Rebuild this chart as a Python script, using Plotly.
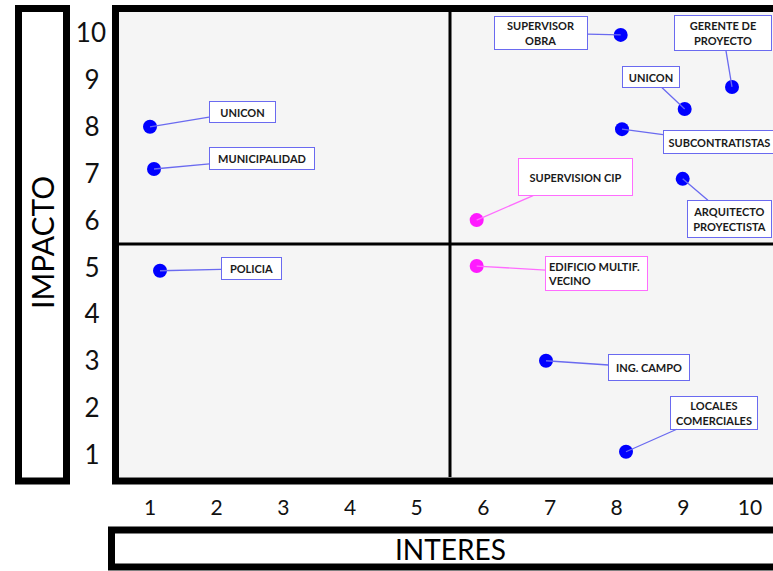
import plotly.graph_objects as go

# Stakeholder matrix: interest (x) vs impact (y)
actores = ["UNICON", "MUNICIPALIDAD", "POLICIA", "SUPERVISOR<br>OBRA",
           "GERENTE DE<br>PROYECTO", "UNICON", "SUBCONTRATISTAS",
           "ARQUITECTO<br>PROYECTISTA", "SUPERVISION CIP",
           "EDIFICIO MULTIF.<br>VECINO", "ING. CAMPO", "LOCALES<br>COMERCIALES"]
interes = [1.0, 1.06, 1.15, 8.06, 9.73, 9.02, 8.08, 8.99, 5.9, 5.9, 6.94, 8.14]
impacto = [8.0, 7.1, 4.93, 9.96, 8.85, 8.38, 7.95, 6.89, 6.01, 5.03, 3.01, 1.07]
destacado = [False, False, False, False, False, False, False, False,
             True, True, False, False]

x_ticks = [1, 2, 3, 4, 5, 6, 7, 8, 9, 10]
y_ticks = [1, 2, 3, 4, 5, 6, 7, 8, 9, 10]
limite = 5.5  # quadrant split on both axes

# label placement: (dx, dy, box width, box height, align) in pixels
etiquetas = [
    (92, -15, 66, 21, "center"),
    (108, -10, 105, 22, "center"),
    (91, -2, 60, 22, "center"),
    (-80, -2, 93, 33, "center"),
    (-9, -54, 97, 35, "center"),
    (-34, -32, 57, 21, "center"),
    (97, 13, 112, 23, "center"),
    (47, 40, 84, 37, "center"),
    (99, -43, 114, 37, "center"),
    (120, 7, 102, 34, "left"),
    (103, 7, 81, 26, "center"),
    (88, -39, 87, 33, "center"),
]

W, H = 773, 571
L, R, T, B = 119, 0, 12, 94
pw, ph = W - L - R, H - T - B


def px(xp):
    return (xp - L) / pw


def py(yp):
    return (H - B - yp) / ph


AZUL = "#0000ff"
MAGENTA = "#ff1aff"
BORDE_AZUL = "#6a6af0"
BORDE_MAG = "#ff6cff"

colores = [MAGENTA if d else AZUL for d in destacado]

fig = go.Figure()
fig.add_trace(go.Scatter(
    x=interes, y=impacto, mode="markers",
    marker=dict(size=14, color=colores, line=dict(width=0)),
    hoverinfo="text", text=actores, showlegend=False,
))

anns = []
for nombre, xv, yv, d, (dx, dy, bw, bh, al) in zip(actores, interes, impacto, destacado, etiquetas):
    borde = BORDE_MAG if d else BORDE_AZUL
    anns.append(dict(
        x=xv, y=yv, xref="x", yref="y", text=nombre,
        ax=dx, ay=dy, showarrow=True, arrowhead=0, arrowwidth=1.3,
        arrowcolor=borde, standoff=0,
        bordercolor=borde, borderwidth=1, borderpad=2, bgcolor="#ffffff",
        width=bw - 5, height=bh - 5, align=al, valign="middle",
        font=dict(family="Lato", size=11, color="#1a1a1a", weight="bold"),
    ))

# axis titles inside framed boxes
anns.append(dict(x=px(42), y=py(243), xref="paper", yref="paper", text="IMPACTO",
                 showarrow=False, textangle=-90, xanchor="center", yanchor="middle",
                 font=dict(family="Lato", size=30, color="#000000")))
anns.append(dict(x=px(450), y=py(549), xref="paper", yref="paper", text="INTERES",
                 showarrow=False, xanchor="center", yanchor="middle",
                 font=dict(family="Lato", size=28, color="#000000")))

shapes = [
    # quadrant dividers
    dict(type="line", xref="x", yref="paper", x0=limite, x1=limite, y0=0, y1=1,
         line=dict(color="#000000", width=3)),
    dict(type="line", xref="paper", yref="y", x0=0, x1=1, y0=limite, y1=limite,
         line=dict(color="#000000", width=3)),
    # heavy frame around the plot area
    dict(type="rect", xref="paper", yref="paper", x0=px(115.5), x1=px(790),
         y0=py(481), y1=py(8.5), line=dict(color="#000000", width=7)),
    # frame of the vertical title
    dict(type="rect", xref="paper", yref="paper", x0=px(18.5), x1=px(66.5),
         y0=py(481), y1=py(8.5), line=dict(color="#000000", width=7)),
    # frame of the horizontal title
    dict(type="rect", xref="paper", yref="paper", x0=px(111.5), x1=px(790),
         y0=py(567), y1=py(530), line=dict(color="#000000", width=7)),
]

fig.update_layout(
    width=W, height=H,
    margin=dict(l=L, r=R, t=T, b=B, pad=0),
    paper_bgcolor="#ffffff", plot_bgcolor="#f5f5f5",
    annotations=anns, shapes=shapes,
    xaxis=dict(range=[0.535, 10.345], tickvals=x_ticks,
               ticktext=[str(v) for v in x_ticks],
               showgrid=False, zeroline=False, showline=False, ticks="",
               ticklabelstandoff=16,
               tickfont=dict(family="Lato", size=21, color="#111111")),
    yaxis=dict(range=[0.531, 10.448], tickvals=y_ticks,
               ticktext=[str(v) if v >= 10 else str(v) + "\u2009\u2009" for v in y_ticks],
               showgrid=False, zeroline=False, showline=False, ticks="",
               ticklabelstandoff=12,
               tickfont=dict(family="Lato", size=26, color="#111111")),
)

fig.write_html("out.html")
